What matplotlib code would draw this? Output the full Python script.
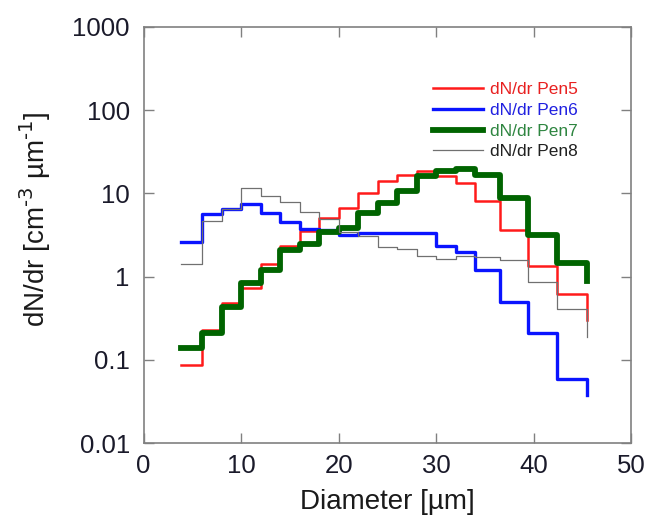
import numpy as np
import matplotlib
matplotlib.use('Agg')
from matplotlib import pyplot as plt

plt.rcParams['font.family'] = ['Liberation Sans', 'DejaVu Sans']
plt.rcParams['mathtext.default'] = 'regular'

# bin edges (µm); last value of each series is the end point of the stairs
edges = [3.8, 6, 8, 10, 12, 14, 16, 18, 20, 22, 24, 26, 28, 30, 32, 34,
         36.5, 39.4, 42.4, 45.5]

pen5 = [0.086, 0.23, 0.48, 0.72, 1.42, 2.3, 3.5, 5.1, 6.7, 10.1, 14.0, 16.8,
        18.4, 16.0, 13.3, 8.2, 3.67, 1.33, 0.61, 0.30]
pen6 = [2.59, 5.67, 6.4, 7.5, 5.8, 4.5, 3.74, 3.67, 3.2, 3.35, 3.3, 3.35,
        3.3, 2.3, 1.96, 1.21, 0.50, 0.21, 0.059, 0.038]
pen7 = [0.14, 0.21, 0.43, 0.84, 1.19, 2.1, 2.45, 3.45, 3.8, 5.8, 7.7, 10.8,
        16.2, 18.7, 19.5, 16.4, 8.9, 3.2, 1.46, 0.88]
pen8 = [1.42, 4.7, 6.5, 11.6, 9.4, 7.8, 6.0, 4.9, 3.4, 3.05, 2.27, 2.15,
        1.75, 1.63, 1.79, 1.7, 1.6, 0.85, 0.41, 0.19]

labels = ['dN/dr Pen5', 'dN/dr Pen6', 'dN/dr Pen7', 'dN/dr Pen8']
colors = ['#ff1a1a', '#0a14ff', '#006400', '#707070']
widths = [1.8, 2.4, 4.2, 0.9]
text_colors = ['#e82020', '#2020e0', '#2e8540', '#202020']

yticks = [0.01, 0.1, 1, 10, 100, 1000]
ylabels = ['0.01', '0.1', '1', '10', '100', '1000']
xticks = [0, 10, 20, 30, 40, 50]

fig = plt.figure(figsize=(6.5, 5.17), dpi=100)
ax = fig.add_axes([0.221, 0.143, 0.750, 0.805])

for ys, c, w, lab in zip([pen5, pen6, pen7, pen8], colors, widths, labels):
    ax.step(edges, ys, where='post', color=c, lw=w, label=lab)

ax.set_yscale('log')
ax.set_xlim(0, 50)
ax.set_ylim(0.01, 1000)
ax.set_yticks(yticks)
ax.set_yticklabels(ylabels)
ax.yaxis.set_minor_locator(matplotlib.ticker.NullLocator())
ax.set_xticks(xticks)

for s in ax.spines.values():
    s.set_color('#808080')
    s.set_linewidth(1.2)
ax.tick_params(which='major', direction='in', length=7, width=1.0,
               color='#808080', top=True, right=True,
               labelsize=18.5, labelcolor='#1a1a2a')
ax.tick_params(axis='x', pad=8)
ax.tick_params(axis='y', pad=10)

ax.set_xlabel('Diameter [µm]', fontsize=20, color='#1a1a1a', labelpad=8)
ax.set_ylabel(r'dN/dr [cm$^{\text{-3}}$ µm$^{\text{-1}}$]', fontsize=20,
              color='#1a1a1a')
ax.yaxis.set_label_coords(-0.185, 0.538)

leg = ax.legend(loc='upper left', bbox_to_anchor=(0.575, 0.888),
                frameon=False, fontsize=12.5, handlelength=2.9,
                handletextpad=0.4, labelspacing=0.32, borderpad=0)
for t, c in zip(leg.get_texts(), text_colors):
    t.set_color(c)

fig.savefig('out.png', dpi=100)
